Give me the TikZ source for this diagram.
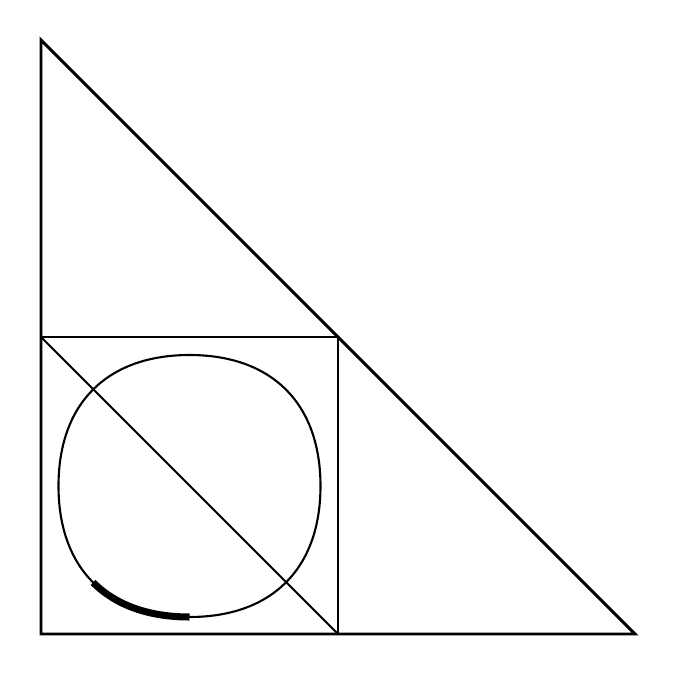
\documentclass[tikz,border=0pt]{standalone}
\usepackage{amsmath}
\usepackage{amssymb}
\usepackage{tikz}

\begin{document}
\begin{tikzpicture}
            \useasboundingbox (-0.41,-0.43) rectangle (6.36,6.34);
            \draw[line width=0.85pt]  (0,0) -- (0,5.94) -- (5.94,0) -- cycle;
            \draw[line width=0.85pt]  (0,0) rectangle (2.97, 2.97);
            \draw[line width=0.6pt]  (0,2.97) -- (2.97,0);
            
            \draw[line width=0.6pt, shift={(1.485,1.48)}]  (0,1.31) .. controls (0.825,1.31) and (1.31,0.825) .. (1.31,0)
                .. controls (1.31,-0.825) and (0.825,-1.31) .. (0,-1.31)
                .. controls (-0.825,-1.31) and (-1.31,-0.825) .. (-1.31,0)
                .. controls (-1.31,0.825) and (-0.825,1.31) .. (0,1.31) -- cycle;
            
            \draw[line width=2pt, shift={(1.485,1.48)}]  (-0.9645,-0.9645) .. controls (-0.740,-1.189) and (-0.413,-1.31) .. (0,-1.31);
        \end{tikzpicture}
\end{document}
